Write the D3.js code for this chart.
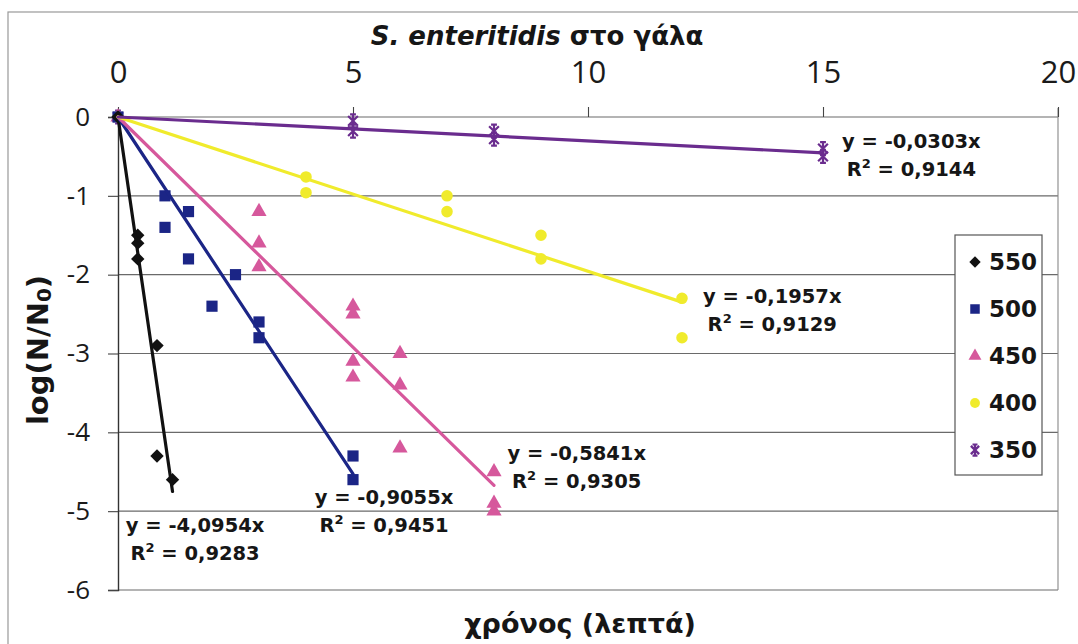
<!DOCTYPE html>
<html>
<head>
<meta charset="utf-8">
<script src="https://cdn.jsdelivr.net/npm/d3@7"></script>
<style>
  body { margin: 0; background: #fff; }
  svg { display: block; }
</style>
</head>
<body>
<div id="graph"></div>
<script>
const width = 1078, height = 644;
const margin = {left: 118, right: 20, top: 117, bottom: 54};

// series names (temperature) and measured points, log(N/No) vs time (min)
const seriesNames = ['550', '500', '450', '400', '350'];
const times550 = [0, 0.42, 0.42, 0.42, 0.83, 0.83, 1.16];
const log550 = [0, -1.5, -1.6, -1.8, -2.9, -4.3, -4.6];
const times500 = [0, 1, 1, 1.5, 1.5, 2, 2.5, 3, 3, 5, 5];
const log500 = [0, -1.0, -1.4, -1.2, -1.8, -2.4, -2.0, -2.6, -2.8, -4.3, -4.6];
const times450 = [0, 3, 3, 3, 5, 5, 5, 5, 6, 6, 6, 8, 8, 8];
const log450 = [0, -1.2, -1.6, -1.9, -2.4, -2.5, -3.1, -3.3, -3.0, -3.4, -4.2, -4.5, -4.9, -5.0];
const times400 = [0, 4, 4, 7, 7, 9, 9, 12, 12];
const log400 = [0, -0.76, -0.96, -1.0, -1.2, -1.5, -1.8, -2.3, -2.8];
const times350 = [0, 5, 5, 8, 8, 15, 15];
const log350 = [0, -0.05, -0.18, -0.18, -0.28, -0.4, -0.5];

// linear trendlines through the origin
const slopes = [-4.0954, -0.9055, -0.5841, -0.1957, -0.0303];
const rSquared = [0.9283, 0.9451, 0.9305, 0.9129, 0.9144];

const xTicks = [0, 5, 10, 15, 20];
const yTicks = [0, -1, -2, -3, -4, -5, -6];

const colors = ['#111111', '#1b2586', '#d6589c', '#f0eb2c', '#6a2c8e'];
const shapes = ['diamond', 'square', 'triangle', 'circle', 'star'];

// where the equation labels sit, in chart units
const labelX = [1.64, 5.66, 9.76, 13.92, 16.88];
const labelY = [-5.26, -4.91, -4.35, -2.36, -0.39];

const allTimes = [times550, times500, times450, times400, times350];
const allLogs = [log550, log500, log450, log400, log350];

const series = seriesNames.map((name, i) => ({
  name: name,
  color: colors[i],
  shape: shapes[i],
  slope: slopes[i],
  r2: rSquared[i],
  points: allTimes[i].map((t, j) => ({x: t, y: allLogs[i][j]})),
  maxX: d3.max(allTimes[i]),
  lx: labelX[i],
  ly: labelY[i]
}));

const svg = d3.select('#graph').
append('svg').
attr('width', width).
attr('height', height);

// outer chart border
svg.append('rect').
attr('x', 8).
attr('y', 12).
attr('width', 1200).
attr('height', 1000).
attr('fill', 'none').
attr('stroke', '#999').
attr('stroke-width', 1.2);

const xScale = d3.scaleLinear().
domain([0, 20]).
range([margin.left, width - margin.right]);

const yScale = d3.scaleLinear().
domain([-6, 0]).
range([height - margin.bottom, margin.top]);

// horizontal gridlines
svg.append('g').
selectAll('line').
data(yTicks).
enter().
append('line').
attr('x1', xScale(0)).
attr('x2', xScale(20)).
attr('y1', d => yScale(d)).
attr('y2', d => yScale(d)).
attr('stroke', '#6a6a6a').
attr('stroke-width', 1.1);

// right border of the plot
svg.append('line').
attr('x1', xScale(20)).
attr('x2', xScale(20)).
attr('y1', yScale(0) - 9).
attr('y2', yScale(-6)).
attr('stroke', '#888').
attr('stroke-width', 1.1);

const xAxis = d3.axisTop(xScale).
tickValues(xTicks).
tickSize(10).
tickPadding(24).
tickFormat(d3.format('d'));

const gx = svg.append('g').
attr('transform', 'translate(0,' + yScale(0) + ')').
call(xAxis);
gx.select('.domain').remove();
gx.selectAll('.tick line').attr('stroke', '#444').attr('stroke-width', 1.1);
gx.selectAll('.tick text').
attr('font-family', '"Open Sans", sans-serif').
attr('font-size', 31).
attr('fill', '#1a1a1a');

const yAxis = d3.axisLeft(yScale).
tickValues(yTicks).
tickSize(10).
tickPadding(18).
tickFormat(d3.format('d'));

const gy = svg.append('g').
attr('transform', 'translate(' + xScale(0) + ',0)').
call(yAxis);
gy.select('.domain').attr('stroke', '#333').attr('stroke-width', 1.4);
gy.selectAll('.tick line').attr('stroke', '#444').attr('stroke-width', 1.1);
gy.selectAll('.tick text').
attr('font-family', '"Open Sans", sans-serif').
attr('font-size', 26).
attr('fill', '#1a1a1a').
text(d => d === 0 ? '0' : '-' + Math.abs(d));

// marker drawing
function starPath(s) {
  const d = s * 0.75;
  return 'M0,' + -s + 'L0,' + s +
  'M' + -d + ',' + -d + 'L' + d + ',' + d +
  'M' + d + ',' + -d + 'L' + -d + ',' + d +
  'M' + -s * 0.45 + ',' + -s + 'L' + s * 0.45 + ',' + -s +
  'M' + -s * 0.45 + ',' + s + 'L' + s * 0.45 + ',' + s;
}

function drawMarker(sel, shape, color, scale) {
  if (shape === 'star') {
    sel.append('path').
    attr('d', starPath(6.5 * scale)).
    attr('fill', 'none').
    attr('stroke', color).
    attr('stroke-width', 2.2);
  } else if (shape === 'diamond') {
    sel.append('path').
    attr('d', d3.symbol().type(d3.symbolSquare).size(90 * scale * scale)()).
    attr('transform', 'rotate(45)').
    attr('fill', color);
  } else {
    const type = {square: d3.symbolSquare, triangle: d3.symbolTriangle, circle: d3.symbolCircle}[shape];
    const size = {square: 125, triangle: 100, circle: 105}[shape];
    sel.append('path').
    attr('d', d3.symbol().type(type).size(size * scale * scale)()).
    attr('fill', color);
  }
}

// points, drawn from the slowest series so the fast ones sit on top
const plot = svg.append('g');
series.slice().reverse().forEach(s => {
  plot.append('g').
  selectAll('g').
  data(s.points).
  enter().
  append('g').
  attr('transform', d => 'translate(' + xScale(d.x) + ',' + yScale(d.y) + ')').
  each(function () {
    drawMarker(d3.select(this), s.shape, s.color, 1);
  });
});

// trendlines
svg.append('g').
selectAll('line').
data(series).
enter().
append('line').
attr('x1', xScale(0)).
attr('y1', yScale(0)).
attr('x2', d => xScale(d.maxX)).
attr('y2', d => yScale(d.slope * d.maxX)).
attr('stroke', d => d.color).
attr('stroke-width', 3.2).
attr('stroke-linecap', 'round');

// equation labels (decimal comma, plain hyphen for minus)
const fmt = v => d3.format('.4f')(v).replace('.', ',').replace('\u2212', '-');
const labels = svg.append('g').
attr('font-family', '"DejaVu Sans", Verdana, sans-serif').
attr('font-weight', 'bold').
attr('font-size', 19.5).
attr('fill', '#161616').
attr('text-anchor', 'middle');

series.forEach(s => {
  labels.append('text').
  attr('x', xScale(s.lx)).
  attr('y', yScale(s.ly)).
  text('y = ' + fmt(s.slope) + 'x');
  const t2 = labels.append('text').
  attr('x', xScale(s.lx)).
  attr('y', yScale(s.ly) + 28);
  t2.append('tspan').text('R');
  t2.append('tspan').attr('font-size', 13).attr('dy', -8).text('2');
  t2.append('tspan').attr('dy', 8).text(' = ' + fmt(s.r2));
});

// legend
const legend = svg.append('g').
attr('transform', 'translate(955,235)');
legend.append('rect').
attr('width', 87).
attr('height', 240).
attr('fill', '#fff').
attr('stroke', '#555').
attr('stroke-width', 1.2);

const items = legend.selectAll('.item').
data(series).
enter().
append('g').
attr('class', 'item').
attr('transform', (d, i) => 'translate(20,' + (27 + i * 47) + ')');
items.each(function (d) {
  drawMarker(d3.select(this), d.shape, d.color, 0.85);
});
items.append('text').
attr('x', 14).
attr('dy', '0.36em').
attr('font-family', '"DejaVu Sans", Verdana, sans-serif').
attr('font-weight', 'bold').
attr('font-size', 23).
attr('fill', '#161616').
text(d => d.name);

// titles
const title = svg.append('text').
attr('x', 537).
attr('y', 45).
attr('text-anchor', 'middle').
attr('font-family', '"DejaVu Sans", Verdana, sans-serif').
attr('font-weight', 'bold').
attr('font-size', 26).
attr('fill', '#161616');
title.append('tspan').attr('font-style', 'italic').text('S. enteritidis');
title.append('tspan').text(' στο γάλα');

svg.append('text').
attr('x', 580).
attr('y', 633).
attr('text-anchor', 'middle').
attr('font-family', '"DejaVu Sans", Verdana, sans-serif').
attr('font-weight', 'bold').
attr('font-size', 27).
attr('fill', '#161616').
text('χρόνος (λεπτά)');

const yTitle = svg.append('text').
attr('transform', 'translate(48,350) rotate(-90)').
attr('text-anchor', 'middle').
attr('font-family', '"DejaVu Sans", Verdana, sans-serif').
attr('font-weight', 'bold').
attr('font-size', 29).
attr('fill', '#161616');
yTitle.append('tspan').text('log(N/N');
yTitle.append('tspan').attr('font-size', 20).attr('dy', 3).text('0');
yTitle.append('tspan').attr('dy', -3).text(')');
</script>
</body>
</html>
